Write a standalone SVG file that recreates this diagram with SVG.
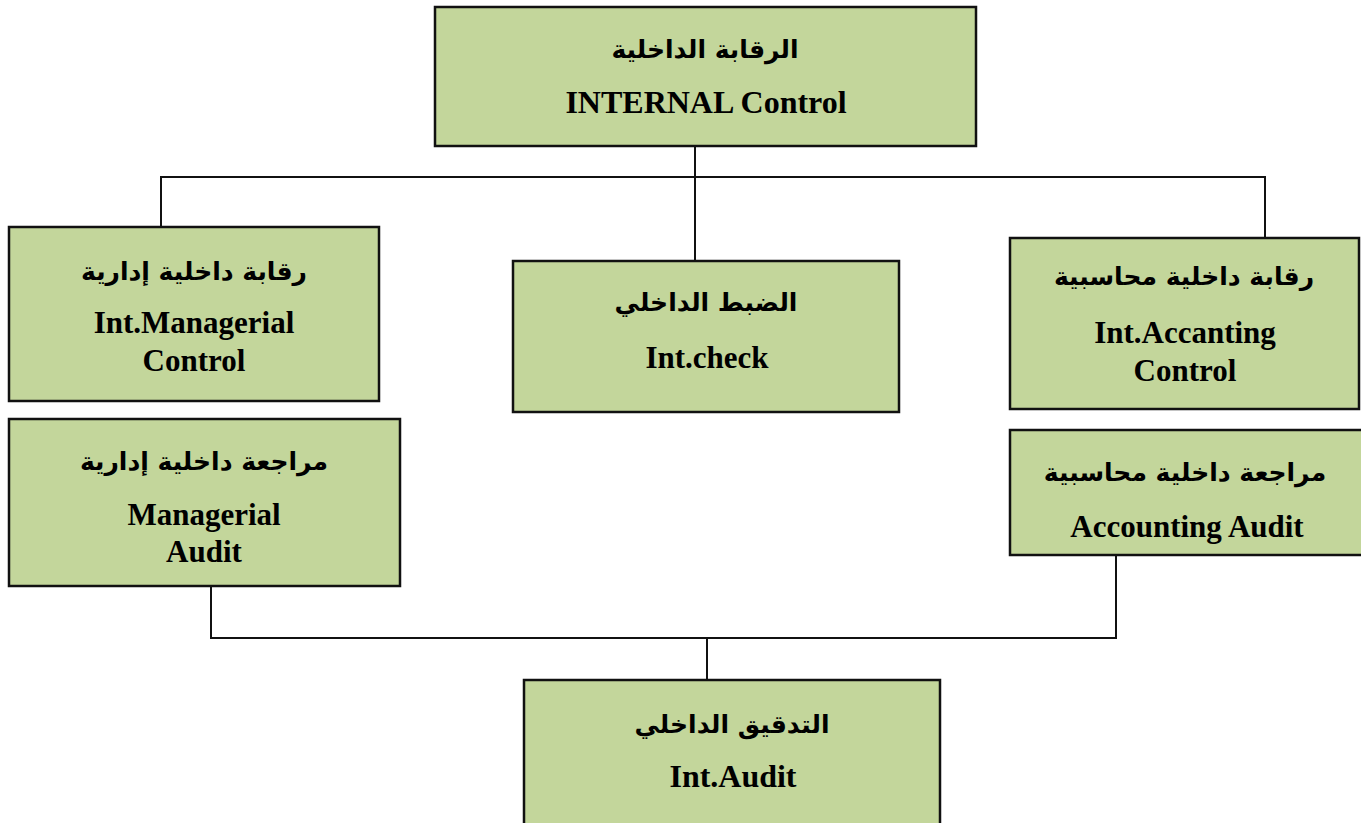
<svg xmlns="http://www.w3.org/2000/svg" width="1361" height="823" viewBox="0 0 1361 823">
<style>
.box{fill:#c3d69b;stroke:#111;stroke-width:2.5}
.en{font-family:"Liberation Serif","Times New Roman",serif;font-weight:bold;font-size:31px;fill:#000;text-anchor:middle}
.ar{font-family:"DejaVu Sans","Noto Sans",sans-serif;font-weight:bold;font-size:25px;fill:#000;text-anchor:middle}
.ln{fill:none;stroke:#111;stroke-width:2}
</style>
<rect width="1361" height="823" fill="#fff"/>
<g id="connectors">
<polyline class="ln" points="161,228 161,177 1265,177 1265,238"/>
<line class="ln" x1="695" y1="146" x2="695" y2="261"/>
<polyline class="ln" points="211,587 211,638 1116,638 1116,556"/>
<line class="ln" x1="707" y1="638" x2="707" y2="680"/>
</g>
<g id="internal-control">
<rect class="box" x="435" y="7" width="541" height="139"/>
<text class="ar" x="705" y="58">الرقابة الداخلية</text>
<text class="en" x="706" y="113" style="font-size:32px">INTERNAL Control</text>
</g>
<g id="int-managerial-control">
<rect class="box" x="9" y="227" width="370" height="174"/>
<text class="ar" x="194" y="280">رقابة داخلية إدارية</text>
<text class="en" x="194" y="333">Int.Managerial</text>
<text class="en" x="194" y="371">Control</text>
</g>
<g id="int-check">
<rect class="box" x="513" y="261" width="386" height="151"/>
<text class="ar" x="706" y="311">الضبط الداخلي</text>
<text class="en" x="707" y="368">Int.check</text>
</g>
<g id="int-accounting-control">
<rect class="box" x="1010" y="238" width="349" height="171"/>
<text class="ar" x="1184" y="285">رقابة داخلية محاسبية</text>
<text class="en" x="1185" y="343">Int.Accanting</text>
<text class="en" x="1185" y="381">Control</text>
</g>
<g id="managerial-audit">
<rect class="box" x="9" y="419" width="391" height="167"/>
<text class="ar" x="204" y="470">مراجعة داخلية إدارية</text>
<text class="en" x="204" y="525">Managerial</text>
<text class="en" x="204" y="562">Audit</text>
</g>
<g id="accounting-audit">
<rect class="box" x="1010" y="430" width="353" height="125"/>
<text class="ar" x="1185" y="481">مراجعة داخلية محاسبية</text>
<text class="en" x="1187" y="537">Accounting Audit</text>
</g>
<g id="int-audit">
<rect class="box" x="524" y="680" width="416" height="150"/>
<text class="ar" x="732" y="733">التدقيق الداخلي</text>
<text class="en" x="733" y="787" textLength="127" lengthAdjust="spacingAndGlyphs">Int.Audit</text>
</g>
</svg>
